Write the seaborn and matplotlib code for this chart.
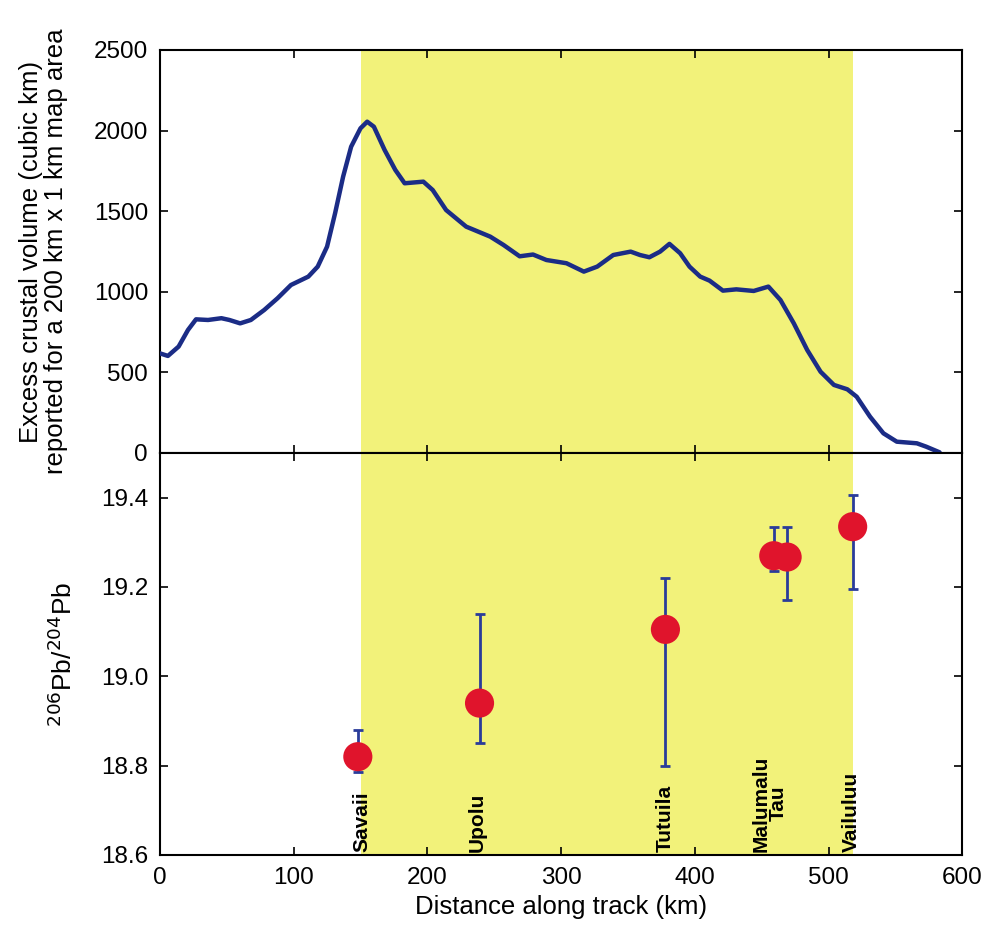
import numpy as np
import pandas as pd
import matplotlib
matplotlib.use('Agg')
import matplotlib.pyplot as plt
import seaborn as sns

# Data
DIST_KM = [0, 6, 14, 21, 27, 36, 46, 52, 60, 68, 78, 88, 98, 111, 118, 125, 131,
           137, 143, 150, 155, 160, 168, 176, 183, 197, 204, 214, 229, 247, 257,
           269, 279, 289, 304, 317, 327, 339, 352, 359, 366, 374, 381, 389, 396,
           404, 411, 421, 431, 444, 455, 464, 474, 484, 494, 504, 514, 521, 531,
           541, 551, 566, 573, 583]
VOLUME = [618, 602, 660, 763, 829, 825, 836, 825, 804, 825, 887, 960, 1042, 1094,
          1156, 1280, 1487, 1714, 1900, 2014, 2055, 2024, 1880, 1756, 1673, 1683,
          1631, 1507, 1404, 1342, 1290, 1220, 1231, 1197, 1177, 1125, 1156, 1228,
          1249, 1228, 1214, 1249, 1297, 1239, 1156, 1094, 1069, 1007, 1015, 1005,
          1032, 949, 804, 639, 504, 422, 395, 349, 225, 122, 70, 60, 39, 4]

VOLCANO = ['Savaii', 'Upolu', 'Tutuila', 'Malumalu', 'Tau', 'Vailuluu']
V_DIST = [148, 239, 378, 459, 469, 518]
PB_RATIO = [18.82, 18.94, 19.105, 19.27, 19.267, 19.335]
PB_HIGH = [18.88, 19.14, 19.22, 19.335, 19.335, 19.405]
PB_LOW = [18.785, 18.85, 18.80, 19.235, 19.17, 19.195]

LABELS = ['Savaii', 'Upolu', 'Tutuila', 'Malumalu\nTau', 'Vailuluu']
LABEL_X = [151, 237, 378, 456, 517]

SHADE = (150, 518)

sns.set_style('ticks')
plt.rcParams['font.family'] = ['Liberation Sans', 'DejaVu Sans']
plt.rcParams.update({'text.color': 'black', 'axes.labelcolor': 'black',
                     'xtick.color': 'black', 'ytick.color': 'black',
                     'axes.edgecolor': 'black'})

YELLOW = '#f2f27a'
NAVY = '#1b2c86'
RED = '#e0142c'

fig = plt.figure(figsize=(9.87, 9.39), dpi=100)
ax1 = fig.add_axes([0.162, 0.5176, 0.813, 0.4292])
ax2 = fig.add_axes([0.162, 0.0895, 0.813, 0.4281], sharex=ax1)

curve = pd.DataFrame({'dist': DIST_KM, 'vol': VOLUME})
pts = pd.DataFrame({'dist': V_DIST, 'pb': PB_RATIO, 'hi': PB_HIGH, 'lo': PB_LOW})

for ax in (ax1, ax2):
    ax.axvspan(*SHADE, color=YELLOW, lw=0, zorder=0)
    ax.tick_params(direction='in', top=True, right=True, labelsize=17.5, length=6,
                   width=1.2, pad=8.5)
    for s in ax.spines.values():
        s.set_linewidth(1.5)

# top panel: crustal volume profile
sns.lineplot(data=curve, x='dist', y='vol', ax=ax1, color=NAVY, lw=3.2, zorder=3)
ax1.lines[-1].set_solid_joinstyle('round')
ax1.set_ylim(0, 2500)
ax1.set_yticks(np.arange(0, 2501, 500))
ax1.set_ylabel('Excess crustal volume (cubic km)\nreported for a 200 km x 1 km map area',
               fontsize=18.5, linespacing=1.05)
ax1.yaxis.set_label_coords(-0.115, 0.5)
ax1.set_xlabel('')
ax1.tick_params(labelbottom=False)

# bottom panel: Pb isotopes with error bars
ax2.errorbar(pts['dist'], pts['pb'],
             yerr=[pts['pb'] - pts['lo'], pts['hi'] - pts['pb']],
             fmt='none', ecolor='#2a3c9a', elinewidth=2, capsize=3.6, capthick=2, zorder=3)
sns.scatterplot(data=pts, x='dist', y='pb', ax=ax2, color=RED, s=440,
                edgecolor='none', zorder=4)
for name, x in zip(LABELS, LABEL_X):
    ax2.text(x, 18.607, name, rotation=90, ha='center', va='bottom',
             fontsize=15, fontweight='bold', linespacing=0.88)

ax2.set_xlim(0, 600)
ax2.set_xticks(np.arange(0, 601, 100))
ax2.set_ylim(18.6, 19.5)
ax2.set_yticks([18.6, 18.8, 19.0, 19.2, 19.4])
ax2.set_yticklabels(['18.6', '18.8', '19.0', '19.2', '19.4'])
ax2.set_ylabel('$^{206}$Pb/$^{204}$Pb', fontsize=19)
ax2.yaxis.set_label_coords(-0.103, 0.5)
ax2.set_xlabel('Distance along track (km)', fontsize=18.5)
ax2.xaxis.set_label_coords(0.5, -0.1)

fig.savefig('out.png', dpi=100)
